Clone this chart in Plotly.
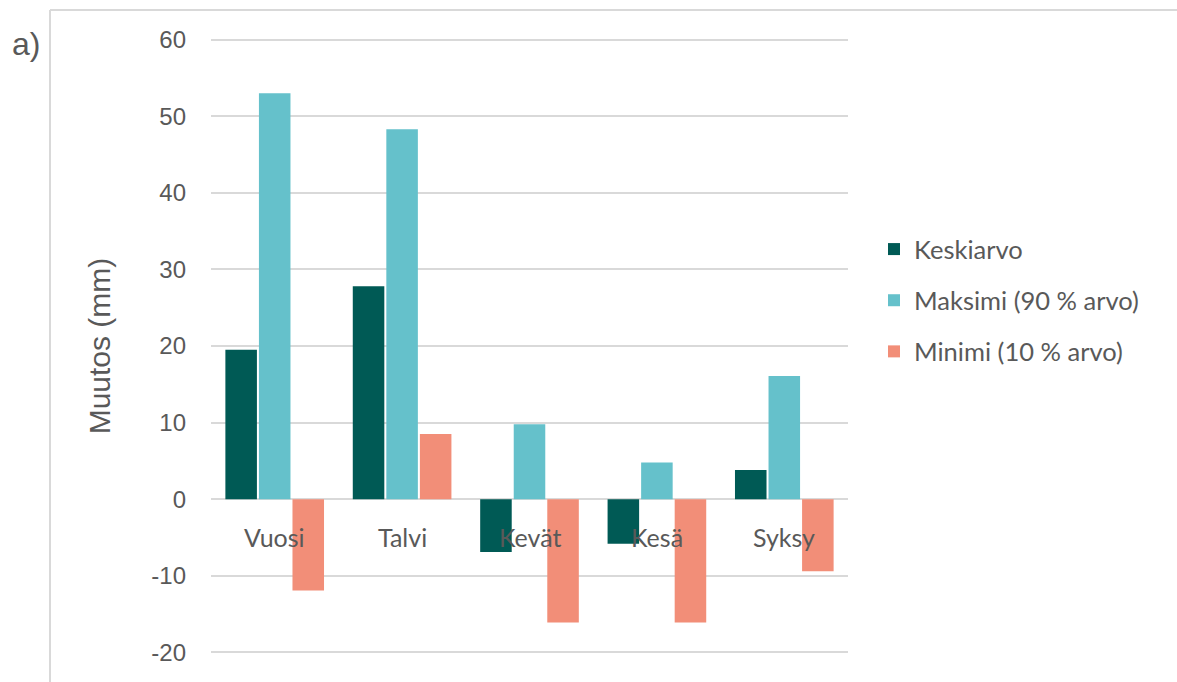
import plotly.graph_objects as go

# Seasonal change in precipitation (mm)
categories = ["Vuosi", "Talvi", "Kevät", "Kesä", "Syksy"]
keskiarvo = [19.5, 27.8, -6.9, -5.8, 3.8]
maksimi = [53.0, 48.3, 9.8, 4.8, 16.1]
minimi = [-11.9, 8.5, -16.1, -16.1, -9.4]

ytick_vals = [-20, -10, 0, 10, 20, 30, 40, 50, 60]
ytick_text = ["-20", "-10", "0", "10", "20", "30", "40", "50", "60"]

series = [
    ("Keskiarvo", keskiarvo, "#005a55"),
    ("Maksimi (90 % arvo)", maksimi, "#65c1cb"),
    ("Minimi (10 % arvo)", minimi, "#f28e78"),
]

TEXT = "#595959"
GRID = "#d9d9d9"

W, H = 1177, 682
L, R, T, B = 211, 329, 38, 28
pw, ph = W - L - R, H - T - B


def px_x(x):
    return (x - L) / pw


def px_y(y):
    return (H - B - y) / ph


fig = go.Figure()
for i, (name, vals, color) in enumerate(series):
    fig.add_trace(go.Bar(
        name=name, x=categories, y=vals,
        marker=dict(color=color, line=dict(width=0)),
        legendgroup=f"g{i}",
    ))

# category labels sit just below the zero line
for c in categories:
    fig.add_annotation(
        x=c, y=0, xref="x", yref="y", text=c, showarrow=False,
        yanchor="middle", yshift=-38,
        font=dict(family="Lato", size=25, color=TEXT),
    )

# panel label
fig.add_annotation(
    x=px_x(26), y=px_y(44), xref="paper", yref="paper", text="a)",
    showarrow=False, xanchor="center", yanchor="middle",
    font=dict(family="Liberation Sans", size=32, color=TEXT),
)

# frame around the panel: left and top edges
fx0, fy0 = px_x(50), px_y(10)
fx1, fy1 = px_x(1200), px_y(720)
fig.add_shape(type="line", xref="paper", yref="paper",
              x0=fx0, y0=fy1, x1=fx0, y1=fy0,
              line=dict(color=GRID, width=2), layer="below")
fig.add_shape(type="line", xref="paper", yref="paper",
              x0=fx0, y0=fy0, x1=fx1, y1=fy0,
              line=dict(color=GRID, width=2), layer="below")

fig.update_layout(
    width=W, height=H,
    margin=dict(l=L, r=R, t=T, b=B),
    paper_bgcolor="white", plot_bgcolor="white",
    barmode="group", bargap=0.21, bargroupgap=0.06,
    font=dict(family="Liberation Sans", color=TEXT),
    showlegend=True,
    legend=dict(
        x=px_x(874), y=px_y(226), xanchor="left", yanchor="top",
        font=dict(family="Lato", size=25.5, color=TEXT),
        tracegroupgap=15, itemwidth=30,
        bgcolor="rgba(0,0,0,0)",
    ),
    xaxis=dict(showticklabels=False, showgrid=False, zeroline=False,
               showline=False, ticks=""),
    yaxis=dict(
        range=[-20.2, 60.2], tickvals=ytick_vals, ticktext=ytick_text,
        showgrid=True, gridcolor=GRID, gridwidth=2,
        zeroline=True, zerolinecolor=GRID, zerolinewidth=2,
        showline=False, ticks="", ticklabelstandoff=24,
        tickfont=dict(family="Liberation Sans", size=24, color=TEXT),
        title=dict(text="Muutos (mm)", standoff=31,
                   font=dict(family="Liberation Sans", size=30, color=TEXT)),
    ),
)

fig.write_html("out.html")
